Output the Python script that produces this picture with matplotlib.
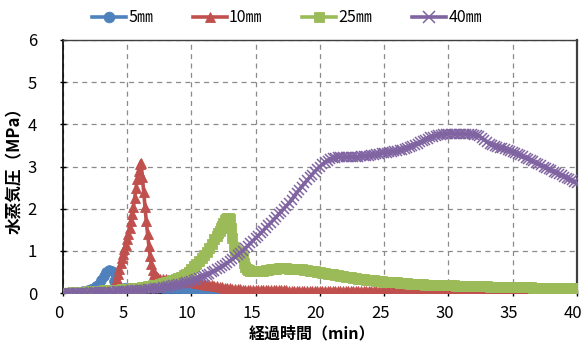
import numpy as np
import matplotlib
matplotlib.use("Agg")
import matplotlib.pyplot as plt
from matplotlib import transforms

# ---- data -------------------------------------------------------------
series_names = ["5㎜", "10㎜", "25㎜", "40㎜"]
series_colors = ["#4F81BD", "#C0504D", "#9BBB59", "#8064A2"]
series_markers = ["o", "^", "s", "x"]

x_ticks = [0, 5, 10, 15, 20, 25, 30, 35, 40]
y_ticks = [0, 1, 2, 3, 4, 5, 6]

# sampling times (min)
time_5mm = np.round(np.linspace(0.0, 40.0, 201), 2)
time_10mm = np.round(np.concatenate([np.linspace(0.0, 3.8, 20),
                                     np.linspace(4.0, 7.3, 34),
                                     np.linspace(7.4, 40.0, 164)]), 2)
time_25mm = np.round(np.concatenate([np.linspace(0.0, 11.8, 60),
                                     np.linspace(12.0, 14.9, 30),
                                     np.linspace(15.0, 40.0, 126)]), 2)
time_40mm = np.round(np.linspace(0.0, 40.0, 201), 2)

# vapour pressure (MPa)
pressure_5mm = [
    0.00, 0.00, 0.01, 0.01, 0.02, 0.02, 0.03, 0.03, 0.04, 0.05,
    0.07, 0.09, 0.12, 0.16, 0.22, 0.30, 0.40, 0.50, 0.55, 0.52,
    0.28, 0.14, 0.10, 0.10, 0.11, 0.11, 0.12, 0.12, 0.13, 0.13,
    0.13, 0.14, 0.14, 0.14, 0.14, 0.14, 0.14, 0.14, 0.14, 0.13,
    0.13, 0.13, 0.12, 0.12, 0.12, 0.11, 0.11, 0.10, 0.10, 0.09,
    0.08, 0.07, 0.06, 0.05, 0.04, 0.03, 0.02, 0.01, 0.00, -0.01,
    -0.02, -0.02, -0.03, -0.03, -0.04, -0.04, -0.04, -0.05, -0.05, -0.05,
    -0.05, -0.05, -0.05, -0.05, -0.05, -0.05, -0.05, -0.05, -0.05, -0.05,
    -0.05, -0.05, -0.05, -0.05, -0.05, -0.05, -0.05, -0.05, -0.05, -0.05,
    -0.05, -0.05, -0.05, -0.05, -0.05, -0.05, -0.05, -0.05, -0.05, -0.05,
    -0.06, -0.06, -0.06, -0.06, -0.06, -0.06, -0.06, -0.06, -0.06, -0.06,
    -0.06, -0.06, -0.06, -0.06, -0.06, -0.06, -0.06, -0.06, -0.06, -0.06,
    -0.06, -0.06, -0.06, -0.06, -0.06, -0.06, -0.06, -0.06, -0.06, -0.06,
    -0.06, -0.06, -0.06, -0.06, -0.06, -0.06, -0.06, -0.06, -0.06, -0.06,
    -0.06, -0.06, -0.06, -0.06, -0.06, -0.06, -0.06, -0.06, -0.06, -0.06,
    -0.06, -0.06, -0.06, -0.06, -0.06, -0.06, -0.06, -0.06, -0.06, -0.06,
    -0.06, -0.06, -0.06, -0.06, -0.06, -0.06, -0.06, -0.06, -0.06, -0.06,
    -0.06, -0.06, -0.06, -0.06, -0.06, -0.06, -0.06, -0.06, -0.06, -0.06,
    -0.06, -0.06, -0.06, -0.06, -0.06, -0.06, -0.06, -0.06, -0.06, -0.06,
    -0.06, -0.06, -0.06, -0.06, -0.06, -0.06, -0.06, -0.06, -0.06, -0.06,
    -0.06,
]

pressure_10mm = [
    0.00, 0.00, 0.00, 0.00, 0.01, 0.01, 0.01, 0.01, 0.02, 0.02,
    0.02, 0.02, 0.03, 0.03, 0.03, 0.04, 0.05, 0.06, 0.08, 0.10,
    0.15, 0.24, 0.34, 0.46, 0.58, 0.70, 0.82, 0.93, 1.04, 1.15,
    1.27, 1.40, 1.54, 1.70, 1.87, 2.05, 2.25, 2.48, 2.70, 2.90,
    3.05, 3.08, 2.75, 2.40, 2.05, 1.70, 1.40, 1.12, 0.88, 0.68,
    0.54, 0.45, 0.40, 0.37,
    0.35, 0.34, 0.33, 0.33, 0.32, 0.32, 0.31, 0.31, 0.30, 0.30,
    0.29, 0.28, 0.27, 0.26, 0.25, 0.24, 0.23, 0.22, 0.21, 0.20,
    0.19, 0.18, 0.17, 0.16, 0.15, 0.14, 0.13, 0.12, 0.11, 0.10,
    0.10, 0.09, 0.09, 0.08, 0.08, 0.08, 0.07, 0.07, 0.07, 0.07,
    0.07, 0.06, 0.06, 0.06, 0.06, 0.06, 0.06, 0.06, 0.06, 0.06,
    0.06, 0.05, 0.05, 0.05, 0.05, 0.05, 0.05, 0.05, 0.05, 0.05,
    0.05, 0.05, 0.05, 0.05, 0.05, 0.05, 0.05, 0.05, 0.05, 0.05,
    0.05, 0.05, 0.05, 0.05, 0.04, 0.04, 0.04, 0.04, 0.04, 0.04,
    0.04, 0.04, 0.04, 0.04, 0.04, 0.04, 0.04, 0.04, 0.04, 0.04,
    0.04, 0.04, 0.04, 0.04, 0.03, 0.03, 0.03, 0.03, 0.03, 0.03,
    0.03, 0.03, 0.03, 0.03, 0.03, 0.03, 0.03, 0.03, 0.03, 0.03,
    0.03, 0.03, 0.03, 0.03, 0.02, 0.02, 0.02, 0.02, 0.02, 0.02,
    0.02, 0.02, 0.02, 0.02, 0.02, 0.02, 0.02, 0.02, 0.02, 0.02,
    0.02, 0.02, 0.02, 0.02, 0.02, 0.01, 0.01, 0.01, 0.01, 0.01,
    0.01, 0.01, 0.01, 0.01, 0.01, 0.01, 0.01, 0.01, 0.01, 0.01,
    0.01, 0.01, 0.01, 0.01, 0.01, 0.01, 0.01, 0.01, 0.01, 0.01,
    0.01, 0.01, 0.01, 0.01,
]

pressure_25mm = [
    0.00, 0.01, 0.01, 0.01, 0.02, 0.02, 0.02, 0.03, 0.03, 0.03,
    0.04, 0.04, 0.04, 0.05, 0.05, 0.05, 0.06, 0.06, 0.06, 0.07,
    0.07, 0.08, 0.08, 0.09, 0.09, 0.10, 0.10, 0.11, 0.12, 0.12,
    0.13, 0.14, 0.15, 0.16, 0.17, 0.18, 0.19, 0.20, 0.22, 0.23,
    0.25, 0.27, 0.29, 0.31, 0.33, 0.36, 0.39, 0.42, 0.46, 0.50,
    0.58, 0.63, 0.69, 0.75, 0.82, 0.90, 0.98, 1.07, 1.17, 1.28,
    1.36, 1.42, 1.48, 1.54, 1.60, 1.66, 1.72, 1.76, 1.78, 1.78,
    1.76, 1.55, 1.30, 1.10, 1.02, 1.00, 0.98, 0.96, 0.95, 0.92,
    0.85, 0.72, 0.62, 0.57, 0.55, 0.54, 0.53, 0.53, 0.53, 0.53,
    0.53, 0.53, 0.53, 0.53, 0.54, 0.55, 0.56, 0.57, 0.58, 0.59,
    0.59, 0.59, 0.59, 0.58, 0.58, 0.57, 0.57, 0.56, 0.56, 0.55,
    0.54, 0.53, 0.52, 0.51, 0.50, 0.49, 0.48, 0.47, 0.46, 0.45,
    0.44, 0.43, 0.42, 0.41, 0.40, 0.39, 0.38, 0.37, 0.36, 0.35,
    0.34, 0.33, 0.33, 0.32, 0.31, 0.30, 0.30, 0.29, 0.28, 0.28,
    0.27, 0.27, 0.26, 0.26, 0.25, 0.25, 0.24, 0.24, 0.23, 0.23,
    0.22, 0.22, 0.22, 0.21, 0.21, 0.21, 0.20, 0.20, 0.20, 0.19,
    0.19, 0.19, 0.19, 0.18, 0.18, 0.18, 0.18, 0.18, 0.17, 0.17,
    0.17, 0.17, 0.17, 0.17, 0.16, 0.16, 0.16, 0.16, 0.16, 0.16,
    0.16, 0.15, 0.15, 0.15, 0.15, 0.15, 0.15, 0.15, 0.15, 0.14,
    0.14, 0.14, 0.14, 0.14, 0.14, 0.14, 0.14, 0.14, 0.13, 0.13,
    0.13, 0.13, 0.13, 0.13, 0.13, 0.13, 0.13, 0.13, 0.12, 0.12,
    0.12, 0.12, 0.12, 0.12, 0.12, 0.12,
]

pressure_40mm = [
    0.00, 0.00, 0.00, 0.00, 0.01, 0.01, 0.01, 0.01, 0.01, 0.01,
    0.01, 0.02, 0.02, 0.02, 0.02, 0.02, 0.03, 0.03, 0.03, 0.03,
    0.03, 0.04, 0.04, 0.04, 0.05, 0.05, 0.05, 0.06, 0.06, 0.07,
    0.07, 0.08, 0.08, 0.09, 0.10, 0.10, 0.11, 0.12, 0.13, 0.14,
    0.15, 0.16, 0.17, 0.18, 0.19, 0.21, 0.22, 0.24, 0.25, 0.27,
    0.29, 0.31, 0.33, 0.35, 0.38, 0.40, 0.43, 0.46, 0.49, 0.52,
    0.56, 0.59, 0.63, 0.67, 0.71, 0.76, 0.80, 0.85, 0.90, 0.95,
    1.00, 1.06, 1.12, 1.18, 1.24, 1.30, 1.36, 1.42, 1.48, 1.55,
    1.61, 1.67, 1.74, 1.80, 1.87, 1.93, 2.00, 2.07, 2.13, 2.20,
    2.30, 2.38, 2.45, 2.52, 2.60, 2.67, 2.74, 2.81, 2.88, 2.94,
    3.00, 3.05, 3.10, 3.14, 3.17, 3.19, 3.21, 3.22, 3.22, 3.22,
    3.22, 3.22, 3.22, 3.23, 3.23, 3.23, 3.24, 3.24, 3.25, 3.26,
    3.27, 3.28, 3.29, 3.30, 3.31, 3.32, 3.33, 3.34, 3.35, 3.36,
    3.37, 3.38, 3.40, 3.42, 3.44, 3.46, 3.48, 3.51, 3.54, 3.57,
    3.60, 3.63, 3.66, 3.69, 3.71, 3.73, 3.74, 3.75, 3.76, 3.77,
    3.78, 3.78, 3.78, 3.78, 3.78, 3.78, 3.78, 3.77, 3.77, 3.76,
    3.75, 3.74, 3.72, 3.68, 3.63, 3.58, 3.54, 3.51, 3.49, 3.47,
    3.45, 3.43, 3.41, 3.39, 3.37, 3.35, 3.33, 3.30, 3.27, 3.24,
    3.21, 3.18, 3.15, 3.12, 3.09, 3.06, 3.03, 3.00, 2.97, 2.94,
    2.91, 2.88, 2.85, 2.82, 2.79, 2.76, 2.73, 2.70, 2.67, 2.64,
    2.62,
]

times = [time_5mm, time_10mm, time_25mm, time_40mm]
pressures = [pressure_5mm, pressure_10mm, pressure_25mm, pressure_40mm]

# ---- figure -----------------------------------------------------------
jp_font = ["Noto Sans CJK JP", "DejaVu Sans"]
num_font = ["Liberation Sans Narrow", "Noto Sans CJK JP", "DejaVu Sans"]
plt.rcParams["font.family"] = jp_font

W, H = 582, 343
fig = plt.figure(figsize=(W / 100, H / 100), dpi=100)
left, right, top, bottom = 62.7, 577.0, 40.0, 293.0
ax = fig.add_axes([left / W, 1 - bottom / H, (right - left) / W, (bottom - top) / H])

for t, p, name, c, m in zip(times, pressures, series_names, series_colors, series_markers):
    if m == "x":
        ax.plot(t, p, color=c, lw=2.6, marker=m, ms=7.5, mew=1.1,
                mec=c, label=name, zorder=3)
    else:
        ax.plot(t, p, color=c, lw=2.6, marker=m, ms=7.0, mew=0.6,
                mec=c, mfc=c, label=name, zorder=3)

ax.set_xlim(0, 40)
ax.set_ylim(0, 6)
ax.set_xticks(x_ticks)
ax.set_yticks(y_ticks)
ax.grid(True, color="#8a8a8a", lw=0.9, ls=(0, (4, 3.5)), zorder=1)
ax.set_axisbelow(True)

for s in ("left", "bottom"):
    ax.spines[s].set_color("black")
    ax.spines[s].set_linewidth(1.2)
ax.spines["top"].set_color("#404040")
ax.spines["top"].set_linewidth(1.0)
ax.spines["right"].set_color("#404040")
ax.spines["right"].set_linewidth(1.6)

ax.tick_params(axis="both", direction="inout", length=5, width=1.0, colors="black")
ax.tick_params(axis="x", pad=6)
ax.tick_params(axis="y", pad=16)
for lab in ax.get_xticklabels() + ax.get_yticklabels():
    lab.set_fontfamily(num_font)
    lab.set_fontsize(12)
shift = transforms.ScaledTranslation(-4 / 100, 0, fig.dpi_scale_trans)
for lab in ax.get_xticklabels():
    lab.set_transform(lab.get_transform() + shift)

ax.set_xlabel("経過時間（min）", fontsize=11.5, fontweight="bold")
ax.xaxis.set_label_coords((312 - left) / (right - left), 1 - (333 - top) / (bottom - top))
ax.xaxis.label.set_verticalalignment("center")
ax.set_ylabel("水蒸気圧（MPa）", fontsize=12, fontweight="bold")
ax.yaxis.set_label_coords((15 - left) / (right - left), 0.5)
ax.yaxis.label.set_verticalalignment("center")

fig.legend(loc="center", bbox_to_anchor=(287 / W, 1 - 18 / H), ncol=4,
           frameon=False, fontsize=11.5, handlelength=2.1, handletextpad=0.15,
           columnspacing=2.5, numpoints=1, markerscale=1.1)

fig.savefig("out.png", dpi=100)
